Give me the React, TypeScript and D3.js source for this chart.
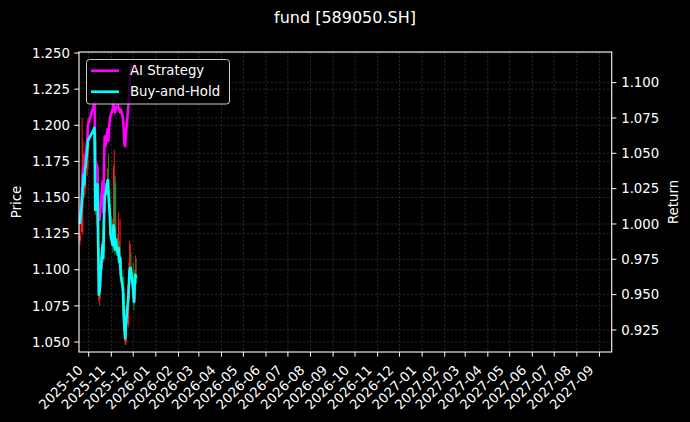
import React, { useEffect, useRef } from 'react'
import * as d3 from 'd3'

// trading days shown in the chart
const dates = [
  '2025-09-19', '2025-09-22', '2025-09-23', '2025-09-24', '2025-09-25', '2025-09-26',
  '2025-09-29', '2025-09-30', '2025-10-09', '2025-10-10', '2025-10-13', '2025-10-14',
  '2025-10-15', '2025-10-16', '2025-10-17', '2025-10-20', '2025-10-21', '2025-10-22',
  '2025-10-23', '2025-10-24', '2025-10-27', '2025-10-28', '2025-10-29', '2025-10-30',
  '2025-10-31', '2025-11-03', '2025-11-04', '2025-11-05', '2025-11-06', '2025-11-07',
  '2025-11-10', '2025-11-11', '2025-11-12', '2025-11-13', '2025-11-14', '2025-11-17',
  '2025-11-18', '2025-11-19', '2025-11-20', '2025-11-21', '2025-11-24', '2025-11-25',
  '2025-11-26', '2025-11-27', '2025-11-28', '2025-12-01', '2025-12-02', '2025-12-03',
  '2025-12-04', '2025-12-05',
]

const openPrice = [
  1.120, 1.126, 1.150, 1.160, 1.168, 1.156, 1.170, 1.185, 1.200, 1.190,
  1.130, 1.160, 1.115, 1.080, 1.088, 1.105, 1.125, 1.118, 1.140, 1.156,
  1.155, 1.163, 1.155, 1.145, 1.137, 1.122, 1.118, 1.130, 1.160, 1.115,
  1.122, 1.110, 1.116, 1.104, 1.108, 1.095, 1.084, 1.067, 1.058, 1.050,
  1.062, 1.080, 1.090, 1.100, 1.102, 1.098, 1.085, 1.078, 1.090, 1.096,
]
const highPrice = [
  1.135, 1.205, 1.188, 1.180, 1.175, 1.182, 1.192, 1.205, 1.212, 1.195,
  1.165, 1.170, 1.120, 1.098, 1.110, 1.128, 1.135, 1.148, 1.160, 1.160,
  1.170, 1.180, 1.158, 1.150, 1.142, 1.135, 1.172, 1.183, 1.165, 1.135,
  1.125, 1.140, 1.120, 1.135, 1.110, 1.100, 1.088, 1.075, 1.062, 1.075,
  1.090, 1.105, 1.120, 1.118, 1.112, 1.105, 1.090, 1.100, 1.110, 1.108,
]
const lowPrice = [
  1.117, 1.124, 1.142, 1.150, 1.150, 1.152, 1.165, 1.178, 1.185, 1.138,
  1.125, 1.112, 1.078, 1.075, 1.085, 1.100, 1.108, 1.112, 1.135, 1.145,
  1.152, 1.150, 1.140, 1.135, 1.120, 1.112, 1.115, 1.126, 1.110, 1.112,
  1.106, 1.108, 1.100, 1.100, 1.092, 1.082, 1.065, 1.055, 1.048, 1.048,
  1.060, 1.078, 1.088, 1.092, 1.095, 1.080, 1.072, 1.076, 1.088, 1.090,
]
const closePrice = [
  1.124, 1.148, 1.158, 1.165, 1.158, 1.169, 1.183, 1.190, 1.198, 1.141,
  1.158, 1.117, 1.082, 1.085, 1.102, 1.120, 1.113, 1.138, 1.150, 1.151,
  1.162, 1.154, 1.144, 1.138, 1.124, 1.117, 1.131, 1.165, 1.113, 1.120,
  1.110, 1.115, 1.105, 1.108, 1.096, 1.085, 1.068, 1.058, 1.051, 1.061,
  1.079, 1.089, 1.099, 1.101, 1.099, 1.085, 1.077, 1.089, 1.096, 1.094,
]

const aiReturn = [
  1.000, 1.024, 1.038, 1.040, 1.037, 1.045, 1.059, 1.070, 1.086, 1.045,
  1.040, 1.005, 1.010, 1.003, 1.012, 1.030, 1.008, 1.045, 1.062, 1.055,
  1.067, 1.059, 1.068, 1.074, 1.077, 1.081, 1.086, 1.084, 1.079, 1.081,
  1.084, 1.082, 1.081, 1.079, 1.081, 1.075, 1.067, 1.056, 1.055, 1.063,
  1.081, 1.088, 1.098, 1.109, 1.113, 1.110, 1.109, 1.112, 1.113, 1.113,
]
const bhReturn = [
  1.000, 1.017, 1.028, 1.035, 1.028, 1.038, 1.052, 1.059, 1.068, 1.010,
  1.028, 0.985, 0.950, 0.953, 0.962, 0.985, 0.976, 1.005, 1.020, 1.021,
  1.031, 1.023, 1.013, 1.006, 0.992, 0.985, 0.999, 0.996, 0.982, 0.989,
  0.978, 0.983, 0.973, 0.976, 0.964, 0.953, 0.936, 0.925, 0.919, 0.929,
  0.946, 0.957, 0.967, 0.969, 0.967, 0.953, 0.945, 0.957, 0.964, 0.962,
]

const priceTicks = [1.05, 1.075, 1.1, 1.125, 1.15, 1.175, 1.2, 1.225, 1.25]
const returnTicks = [0.925, 0.95, 0.975, 1.0, 1.025, 1.05, 1.075, 1.1]

const seriesLegend = [
  { name: 'AI Strategy', color: '#ff00ff' },
  { name: 'Buy-and-Hold', color: '#00ffff' },
]

export default function App() {
  const svgRef = useRef<SVGSVGElement>(null)

  useEffect(() => {
    const svg = d3.select(svgRef.current)
    svg.selectAll('*').remove()

    const width = 690
    const height = 422
    const left = 79
    const right = 611.7
    const top = 52
    const bottom = 352
    const font = 'DejaVu Sans, sans-serif'

    const parse = d3.utcParse('%Y-%m-%d')
    const days = dates.map(d => parse(d) as Date)

    const x = d3.scaleUtc()
      .domain([new Date(Date.UTC(2025, 8, 17, 17)), new Date(Date.UTC(2027, 8, 17, 19))])
      .range([left, right])
    const yPrice = d3.scaleLinear().domain([1.0431, 1.2507]).range([bottom, top])
    const yRet = d3.scaleLinear().domain([0.9094, 1.1217]).range([bottom, top])

    svg.attr('width', width).attr('height', height)
    svg.append('rect').attr('width', width).attr('height', height).attr('fill', '#000')

    const monthTicks = d3.utcMonth.range(new Date(Date.UTC(2025, 9, 1)), new Date(Date.UTC(2027, 8, 2)))
    const fmt = d3.utcFormat('%Y-%m')

    // grid
    const grid = svg.append('g')
      .attr('stroke', '#8a8a8a')
      .attr('stroke-opacity', 0.45)
      .attr('stroke-width', 0.6)
      .attr('stroke-dasharray', '2.5,1.5')
    monthTicks.forEach(t => {
      grid.append('line').attr('x1', x(t)).attr('x2', x(t)).attr('y1', top).attr('y2', bottom)
    })
    priceTicks.forEach(v => {
      grid.append('line').attr('x1', left).attr('x2', right).attr('y1', yPrice(v)).attr('y2', yPrice(v))
    })
    returnTicks.forEach(v => {
      grid.append('line').attr('x1', left).attr('x2', right).attr('y1', yRet(v)).attr('y2', yRet(v))
    })

    // candlesticks
    const candles = svg.append('g')
    days.forEach((d, i) => {
      const up = closePrice[i] >= openPrice[i]
      const color = up ? '#ff1a1a' : '#1f8f1f'
      const cx = x(d)
      candles.append('line')
        .attr('x1', cx).attr('x2', cx)
        .attr('y1', yPrice(highPrice[i])).attr('y2', yPrice(lowPrice[i]))
        .attr('stroke', color).attr('stroke-width', 1)
      const y0 = yPrice(Math.max(openPrice[i], closePrice[i]))
      const y1 = yPrice(Math.min(openPrice[i], closePrice[i]))
      candles.append('rect')
        .attr('x', cx - 1.2).attr('width', 2.4)
        .attr('y', y0).attr('height', Math.max(0.8, y1 - y0))
        .attr('fill', color)
    })

    // return lines
    const line = d3.line<number>()
      .x((_, i) => x(days[i]))
      .y(v => yRet(v))
    svg.append('path').attr('d', line(aiReturn))
      .attr('fill', 'none').attr('stroke', seriesLegend[0].color)
      .attr('stroke-width', 2.6).attr('stroke-linejoin', 'round')
    svg.append('path').attr('d', line(bhReturn))
      .attr('fill', 'none').attr('stroke', seriesLegend[1].color)
      .attr('stroke-width', 2.6).attr('stroke-linejoin', 'round')

    // frame
    svg.append('rect')
      .attr('x', left).attr('y', top).attr('width', right - left).attr('height', bottom - top)
      .attr('fill', 'none').attr('stroke', '#fff').attr('stroke-width', 1.1)

    const tickLen = 4.7
    // x axis
    const xAxis = svg.append('g')
    monthTicks.forEach(t => {
      const tx = x(t)
      xAxis.append('line').attr('x1', tx).attr('x2', tx).attr('y1', bottom).attr('y2', bottom + tickLen)
        .attr('stroke', '#fff').attr('stroke-width', 1)
      xAxis.append('text')
        .attr('transform', `translate(${tx - 5},${bottom + 19}) rotate(-45)`)
        .attr('text-anchor', 'end')
        .attr('fill', '#fff')
        .style('font-family', font)
        .style('font-size', '13.3px')
        .text(fmt(t))
    })

    // left axis
    const yAxisL = svg.append('g')
    priceTicks.forEach(v => {
      const ty = yPrice(v)
      yAxisL.append('line').attr('x1', left - tickLen).attr('x2', left).attr('y1', ty).attr('y2', ty)
        .attr('stroke', '#fff').attr('stroke-width', 1)
      yAxisL.append('text')
        .attr('x', left - 9).attr('y', ty).attr('dy', '0.35em')
        .attr('text-anchor', 'end').attr('fill', '#fff')
        .style('font-family', font).style('font-size', '13.3px')
        .text(d3.format('.3f')(v))
    })

    // right axis
    const yAxisR = svg.append('g')
    returnTicks.forEach(v => {
      const ty = yRet(v)
      yAxisR.append('line').attr('x1', right).attr('x2', right + tickLen).attr('y1', ty).attr('y2', ty)
        .attr('stroke', '#fff').attr('stroke-width', 1)
      yAxisR.append('text')
        .attr('x', right + 9.5).attr('y', ty).attr('dy', '0.35em')
        .attr('text-anchor', 'start').attr('fill', '#fff')
        .style('font-family', font).style('font-size', '13.3px')
        .text(d3.format('.3f')(v))
    })

    // axis labels
    svg.append('text')
      .attr('transform', `translate(21,${(top + bottom) / 2}) rotate(-90)`)
      .attr('text-anchor', 'middle').attr('fill', '#fff')
      .style('font-family', font).style('font-size', '13.3px')
      .text('Price')
    svg.append('text')
      .attr('transform', `translate(678,${(top + bottom) / 2}) rotate(-90)`)
      .attr('text-anchor', 'middle').attr('fill', '#fff')
      .style('font-family', font).style('font-size', '13.3px')
      .text('Return')

    // title
    svg.append('text')
      .attr('x', 345).attr('y', 23)
      .attr('text-anchor', 'middle').attr('fill', '#fff')
      .style('font-family', font).style('font-size', '16px')
      .text('fund [589050.SH]')

    // legend
    const lg = svg.append('g')
    lg.append('rect')
      .attr('x', 86.5).attr('y', 59.5).attr('width', 143).attr('height', 44.5).attr('rx', 3)
      .attr('fill', '#000').attr('fill-opacity', 0.8)
      .attr('stroke', '#cccccc').attr('stroke-width', 1)
    seriesLegend.forEach((s, i) => {
      const ly = 70.7 + i * 21
      lg.append('line').attr('x1', 91).attr('x2', 119).attr('y1', ly).attr('y2', ly)
        .attr('stroke', s.color).attr('stroke-width', 2.6)
      lg.append('text')
        .attr('x', 130).attr('y', ly).attr('dy', '0.35em')
        .attr('fill', '#fff')
        .style('font-family', font).style('font-size', '13.3px')
        .text(s.name)
    })
  }, [])

  return (
    <svg ref={svgRef} style={{ position: 'absolute', left: 0, top: 0, display: 'block' }} />
  )
}
